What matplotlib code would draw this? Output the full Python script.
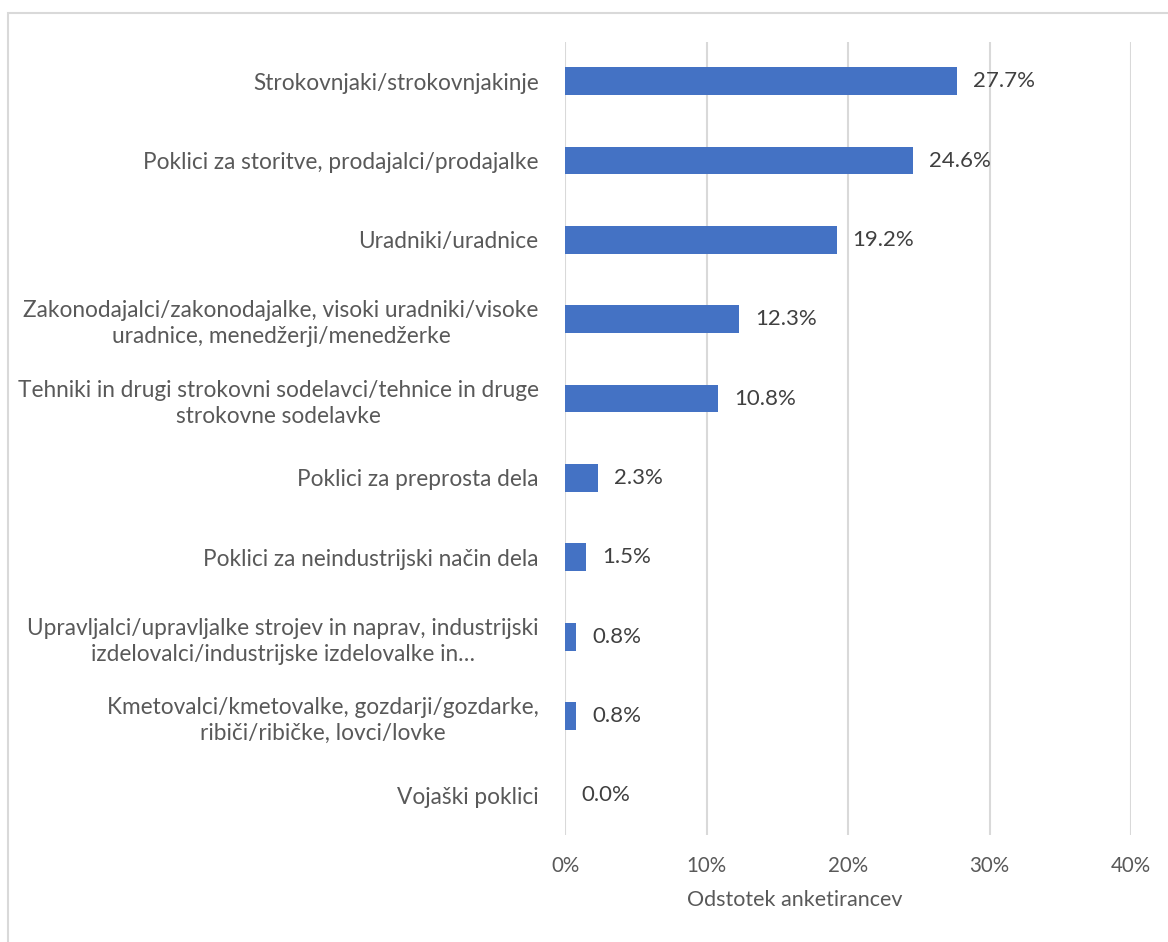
import matplotlib.pyplot as plt
from matplotlib.patches import Rectangle
from matplotlib.ticker import FuncFormatter

# podatki
categories = [
    "Strokovnjaki/strokovnjakinje",
    "Poklici za storitve, prodajalci/prodajalke",
    "Uradniki/uradnice",
    "Zakonodajalci/zakonodajalke, visoki uradniki/visoke\nuradnice, menedžerji/menedžerke",
    "Tehniki in drugi strokovni sodelavci/tehnice in druge\nstrokovne sodelavke",
    "Poklici za preprosta dela",
    "Poklici za neindustrijski način dela",
    "Upravljalci/upravljalke strojev in naprav, industrijski\nizdelovalci/industrijske izdelovalke in…",
    "Kmetovalci/kmetovalke, gozdarji/gozdarke,\nribiči/ribičke, lovci/lovke",
    "Vojaški poklici",
]
values = [27.7, 24.6, 19.2, 12.3, 10.8, 2.3, 1.5, 0.8, 0.8, 0.0]
x_ticks = [0, 10, 20, 30, 40]

plt.rcParams['font.family'] = ['Lato', 'DejaVu Sans']
text_color = '#595959'

fig = plt.figure(figsize=(11.68, 9.42), dpi=100)
ax = fig.add_axes([565 / 1168, 1 - 835 / 942, 566 / 1168, 793.5 / 942])

# okvir okrog grafa
fig.patches.append(Rectangle((8 / 1168, -0.01), 1.02, 1 - 13 / 942 + 0.01,
                             transform=fig.transFigure, fill=False,
                             edgecolor='#D9D9D9', linewidth=1.5))

y_pos = list(range(len(categories)))
ax.barh(y_pos, values, height=0.35, color='#4472C4', zorder=3)
ax.set_ylim(len(categories) - 0.5, -0.5)
ax.set_xlim(0, 40)

for y, v in zip(y_pos, values):
    ax.annotate(f"{v:.1f}%", (v, y), xytext=(11.5, 0), textcoords='offset points',
                va='center', ha='left', fontsize=16, color='#404040')

ax.set_yticks(y_pos)
ax.set_yticklabels(categories, fontsize=16.3, color=text_color, linespacing=1.3)
for lab in ax.get_yticklabels():
    lab.set_multialignment('center')
ax.set_xticks(x_ticks)
ax.xaxis.set_major_formatter(FuncFormatter(lambda v, p: f"{v:.0f}%"))
ax.tick_params(axis='x', length=0, pad=15, labelsize=14.8, labelcolor=text_color)
ax.tick_params(axis='y', length=0, pad=19)

ax.grid(axis='x', color='#D9D9D9', linewidth=1.5, zorder=0)
for s in ax.spines.values():
    s.set_visible(False)

ax.set_xlabel("Odstotek anketirancev", fontsize=15.5, color=text_color)
ax.xaxis.set_label_coords((795 - 565) / 566, -(900 - 835) / 793.5)
ax.xaxis.label.set_va('center')

fig.savefig("out.png", dpi=100)
